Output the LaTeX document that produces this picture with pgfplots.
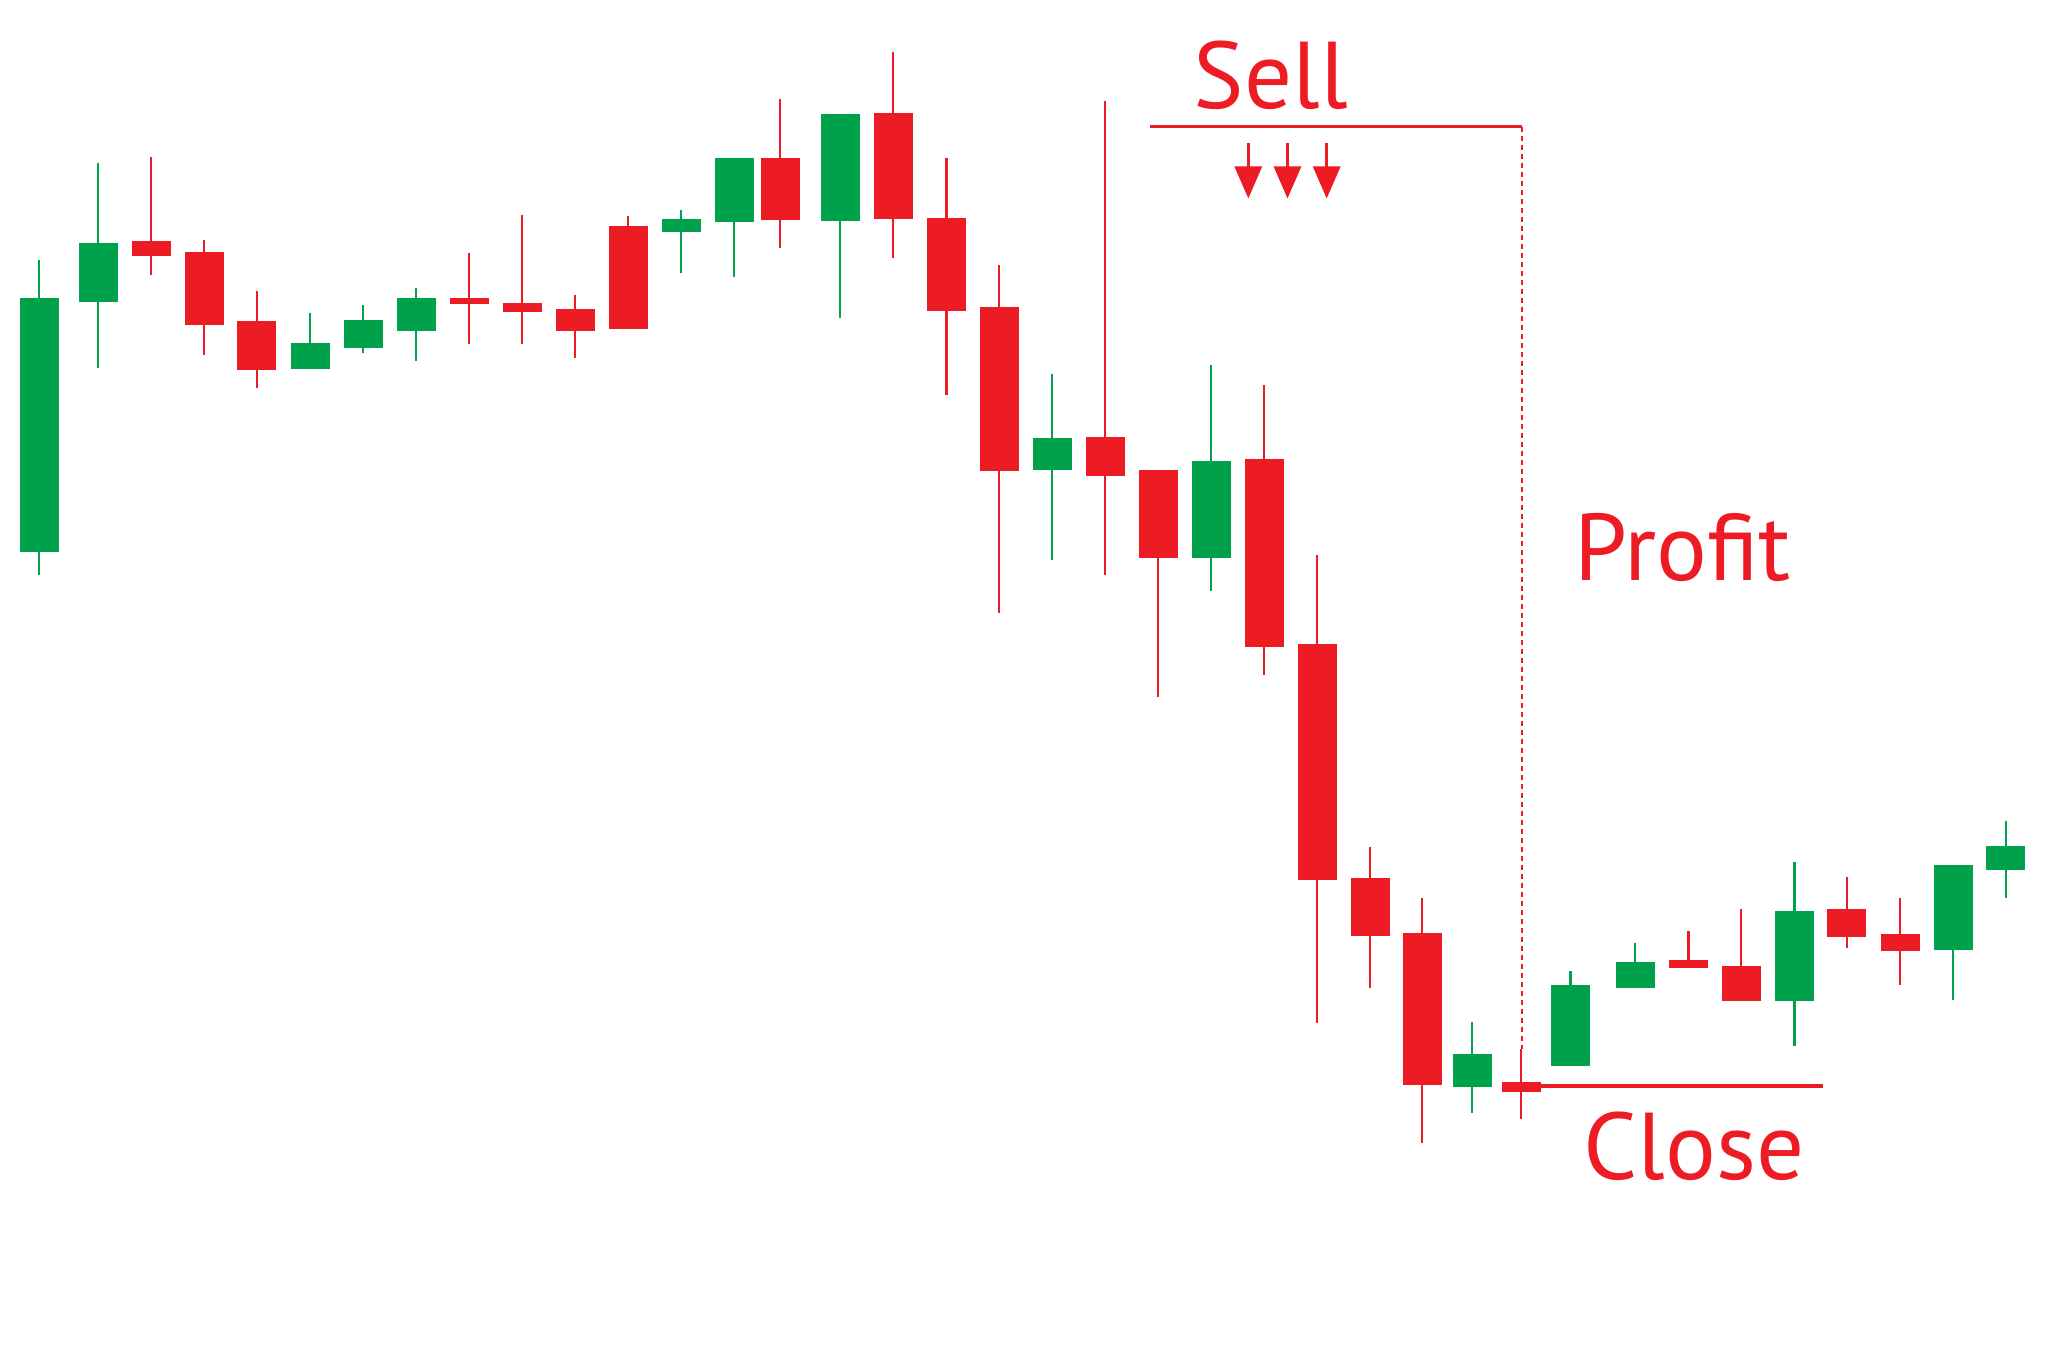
\documentclass[border=0pt]{standalone}
\usepackage{pgfplots}
\pgfplotsset{compat=1.18}
\usepackage{pgfplotstable}
\usepackage{fontspec}
\setmainfont{PT Sans}
\usetikzlibrary{arrows.meta}
\definecolor{cred}{RGB}{237,28,36}
\definecolor{cgreen}{RGB}{0,161,75}

% x = candle centre, wt/wb = wick top/bottom, bt/bb = body top/bottom (image rows, y downward)
\pgfplotstableread{
x      wt     wb     bt     bb
151    157.3  275    241    256
204    240    355    252    325.3
256.7  290.7  388.3  321    370.3
469.3  252.7  344.3  298.3  304
522.3  215    344.3  302.7  312
575    294.7  358.3  308.7  330.7
628.3  215.7  329    226.3  329
780    99.3   248.3  157.7  220
893    51.7   258.3  113.3  219
946.5  158.3  395    217.6  311.5
999.3  265.3  613.5  306.8  470.6
1105   101.4  575.5  437.1  476.4
1158.3 469.7  697.4  469.7  557.7
1264   384.7  675.3  458.9  647.2
1317.3 554.8  1022.5 644.1  880.3
1370   847.3  987.5  877.7  936.2
1422.3 897.5  1142.8 933.1  1085.3
1521   1048.7 1119.3 1081.6 1092.1
1688.4 930.6  968.4  960    968.4
1741.2 909.4  1000.7 965.7  1000.7
1846.9 876.8  947.5  908.8  937.4
1900.1 897.6  984.5  933.7  950.8
}\redc

\pgfplotstableread{
x      wt     wb     bt     bb
39.3   260    575    298.3  552.3
98     162.7  368.3  242.7  301.7
310    312.7  369    343.3  369
363    305    353.3  320    347.7
416    288.3  360.7  298.3  331.3
681    210    273.3  219    232.3
734    158.3  276.7  158.3  222
840    113.7  318.3  113.7  221.3
1052   373.8  559.9  438.5  469.7
1211   364.8  591.2  460.8  557.7
1472   1021.5 1113   1053.9 1086.9
1570.5 971    1066   985    1066
1635.2 943.1  987.9  962.3  987.9
1794.4 861.6  1045.8 910.8  1000.7
1953   865    1000.3 865    949.8
2005.9 820.9  897.6  845.5  870
}\greenc

\pgfplotsset{seg/.style 2 args={draw=none, mark=none, forget plot,
  error bars/.cd, y dir=plus, y explicit, error mark=none,
  error bar style={draw=#1, line width=#2, line cap=butt}}}

\begin{document}
\begin{tikzpicture}
\begin{axis}[width=20.48cm, height=13.54cm, scale only axis,
  xmin=0, xmax=2048, ymin=0, ymax=1354, y dir=reverse,
  axis line style={draw=none}, xtick=\empty, ytick=\empty, clip=false]

\addplot[seg={cred}{0.65pt}] table[x=x, y=wt, y error plus expr=\thisrow{wb}-\thisrow{wt}] {\redc};
\addplot[seg={cred}{3.9mm}] table[x=x, y=bt, y error plus expr=\thisrow{bb}-\thisrow{bt}] {\redc};
\addplot[seg={cgreen}{0.65pt}] table[x=x, y=wt, y error plus expr=\thisrow{wb}-\thisrow{wt}] {\greenc};
\addplot[seg={cgreen}{3.9mm}] table[x=x, y=bt, y error plus expr=\thisrow{bb}-\thisrow{bt}] {\greenc};

% annotations
\addplot[cred, line width=0.95pt] coordinates {(1150,126.7) (1521.7,126.7)};
\addplot[cred, line width=0.55pt, dash pattern=on 0.5mm off 0.4mm] coordinates {(1521.7,126.7) (1521.7,1049)};
\addplot[cred, line width=1pt] coordinates {(1521,1086) (1823,1086)};
\addplot[cred, line width=0.85pt, -{Triangle[width=2.7mm,length=3.2mm]}] coordinates {(1248.3,143.5) (1248.3,198.5)};
\addplot[cred, line width=0.85pt, -{Triangle[width=2.7mm,length=3.2mm]}] coordinates {(1287.5,143.5) (1287.5,198.5)};
\addplot[cred, line width=0.85pt, -{Triangle[width=2.7mm,length=3.2mm]}] coordinates {(1326.7,143.5) (1326.7,198.5)};

\node[text=cred, font=\fontsize{27}{30}\selectfont, anchor=base, inner sep=0] at (axis cs:1271,109) {Sell};
\node[text=cred, font=\fontsize{27}{30}\selectfont, anchor=base west, inner sep=0] at (axis cs:1574,580) {Profit};
\node[text=cred, font=\fontsize{27}{30}\selectfont, anchor=base west, inner sep=0] at (axis cs:1583,1179) {Close};
\end{axis}
\end{tikzpicture}
\end{document}
